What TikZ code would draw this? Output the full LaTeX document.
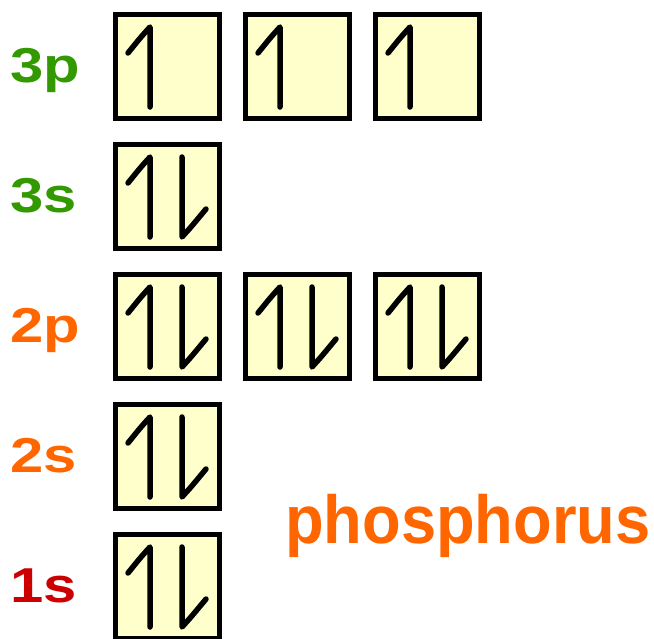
\documentclass[tikz,border=0pt]{standalone}
\usepackage{fontspec}
\setmainfont{Liberation Sans}
\definecolor{boxyellow}{HTML}{FFFFCC}
\definecolor{lgreen}{HTML}{339900}
\definecolor{lorange}{HTML}{FF6600}
\definecolor{lred}{HTML}{CC0000}
\newcommand{\wlabel}[1]{\scalebox{1.22}[1]{\fontsize{49}{49}\selectfont\bfseries #1}}
\tikzset{
  orb/.style={draw=black, line width=4.5pt, fill=boxyellow, rectangle, minimum size=104pt, inner sep=0pt},
  lbl/.style={anchor=base west, inner sep=0pt},
  spin/.style={line width=5.5pt, line cap=round, line join=round},
  pics/spinup/.style={code={\draw[spin] (-17.5,40.5) -- (-17.5,-39.5) .. controls (-27,-29) .. (-39.5,-13.5);}},
  pics/spindown/.style={code={\draw[spin] (14.5,-39.5) -- (14.5,40.5) .. controls (24,30) .. (38.5,12.5);}}
}
\begin{document}
\begin{tikzpicture}[x=1pt,y=-1pt]
\useasboundingbox (0,0) rectangle (654,638);
% labels
\node[lbl, text=lgreen]  (l3p) at (10,82)  {\wlabel{3p}};
\node[lbl, text=lgreen]  (l3s) at (10,212) {\wlabel{3s}};
\node[lbl, text=lorange] (l2p) at (10,342) {\wlabel{2p}};
\node[lbl, text=lorange] (l2s) at (10,472) {\wlabel{2s}};
\node[lbl, text=lred]    (l1s) at (10,602) {\wlabel{1s}};
% boxes
\node[orb] (p3a) at (167.5,66.5) {};
\node[orb] (p3b) at (297.5,66.5) {};
\node[orb] (p3c) at (427.5,66.5) {};
\node[orb] (s3)  at (167.5,196.5) {};
\node[orb] (p2a) at (167.5,326.5) {};
\node[orb] (p2b) at (297.5,326.5) {};
\node[orb] (p2c) at (427.5,326.5) {};
\node[orb] (s2)  at (167.5,456.5) {};
\node[orb] (s1)  at (167.5,586.5) {};
% spins
\foreach \b in {p3a,p3b,p3c,s3,p2a,p2b,p2c,s2,s1} {\pic at (\b.center) {spinup};}
\foreach \b in {s3,p2a,p2b,p2c,s2,s1} {\pic at (\b.center) {spindown};}
% name
\node[text=lorange, anchor=base west, inner sep=0pt] (name) at (285,543) {\scalebox{0.93}[1]{\fontsize{68}{68}\selectfont\bfseries phosphorus}};
\end{tikzpicture}
\end{document}
